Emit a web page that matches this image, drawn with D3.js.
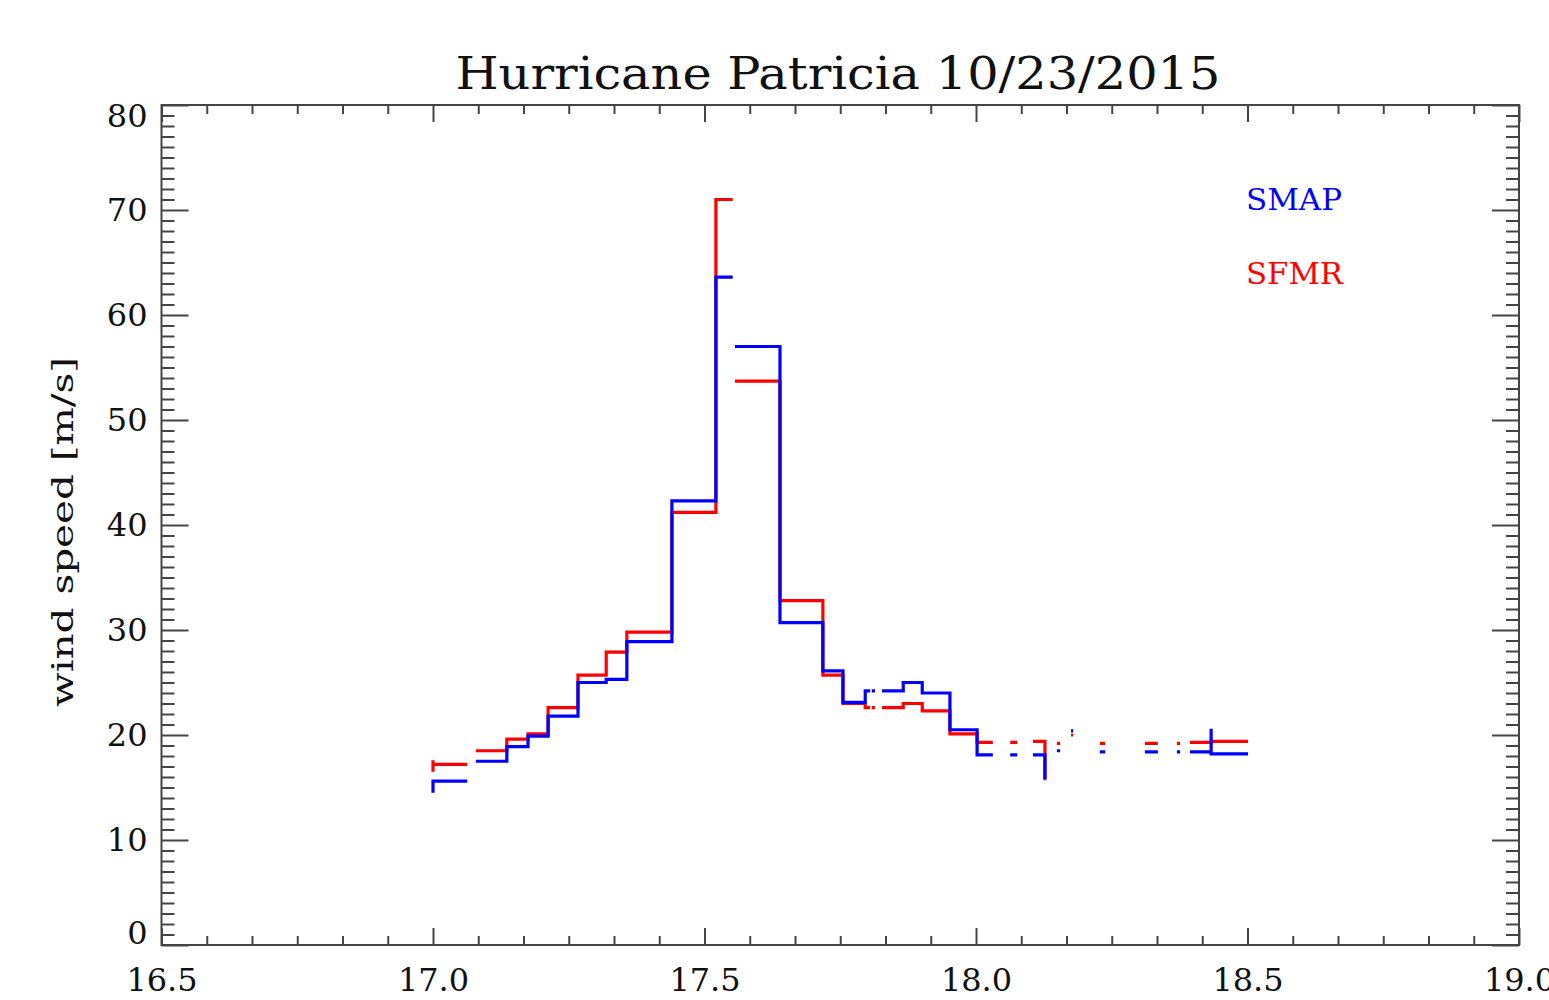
<!DOCTYPE html>
<html lang="en">
  <head>
    <meta charset="utf-8"/>
    <script src="https://d3js.org/d3.v7.min.js"></script>
    <title>Hurricane Patricia 10/23/2015</title>
  </head>
  <body style="margin:0;background:#fff">
    <svg id="chart"></svg>
  </body>

  <script>
  // bin edges in latitude (zero-width bins draw the small vertical stubs)
  const latEdges = [17.000, 17.000, 17.000, 17.063, 17.079, 17.136, 17.175, 17.212, 17.267, 17.319,
    17.357, 17.440, 17.521, 17.552, 17.556, 17.639, 17.718, 17.755, 17.796, 17.805,
    17.808, 17.814, 17.827, 17.866, 17.901, 17.952, 18.002, 18.031, 18.063, 18.076,
    18.105, 18.127, 18.127, 18.149, 18.155, 18.175, 18.179, 18.228, 18.238, 18.311,
    18.335, 18.370, 18.376, 18.394, 18.433, 18.433, 18.501];

  // wind speed per bin, null = no data
  const smap = [14.5, 14.5, 15.6, null, 17.5, 18.9, 19.9, 21.8, 25.0, 25.3,
    28.9, 42.3, 63.6, null, 57.0, 30.7, 26.1, 23.1, 24.2, null,
    24.2, null, 24.2, 25.0, 24.0, 20.5, 18.1, null, 18.1, null,
    18.1, 15.8, null, 18.5, null, 20.4, null, 18.4, null, 18.4,
    null, 18.4, null, 18.4, 20.6, 18.2];

  const sfmr = [16.5, 17.6, 17.2, null, 18.5, 19.6, 20.1, 22.6, 25.7, 27.9,
    29.8, 41.2, 71.0, null, 53.7, 32.8, 25.7, 23.0, 22.6, null,
    22.6, null, 22.6, 23.0, 22.3, 20.1, 19.3, null, 19.3, null,
    19.4, 15.7, null, 19.2, null, 20.0, null, 19.2, null, 19.2,
    null, 19.2, null, 19.3, 19.4, 19.4];

  const xTicks = [16.5, 17.0, 17.5, 18.0, 18.5, 19.0];
  const yTicks = [0, 10, 20, 30, 40, 50, 60, 70, 80];

  const W = 1549, H = 1000;
  const plotLeft = 161.5, plotRight = 1519, plotTop = 105, plotBottom = 945;

  const svg = d3.select("#chart")
    .attr("width", W)
    .attr("height", H)
    .style("font-family", "'DejaVu Serif', serif");

  const x = d3.scaleLinear().domain([16.5, 19.0]).range([plotLeft, plotRight]);
  const y = d3.scaleLinear().domain([0, 80]).range([plotBottom, plotTop]);

  // minor ticks: 6 per 0.5 on x, every 1 on y
  const xMinor = d3.range(0, 31).map(i => 16.5 + i / 12).filter(v => Math.abs(v * 2 - Math.round(v * 2)) > 1e-6);
  const yMinor = d3.range(0, 81).filter(v => v % 10 !== 0);

  const tickColor = "#444";

  function addAxis(axis, tx, ty) {
    const g = svg.append("g").attr("transform", `translate(${tx},${ty})`).call(axis);
    g.select(".domain").remove();
    g.selectAll(".tick line").attr("stroke", tickColor).attr("stroke-width", 2);
    return g;
  }

  // bottom axis with labels
  const gx = addAxis(d3.axisBottom(x).tickValues(xTicks).tickSize(-17).tickPadding(23)
    .tickFormat(d3.format(".1f")), 0, plotBottom);
  gx.selectAll("text").attr("font-size", 32).attr("fill", "#111")
    .attr("font-family", "'DejaVu Serif', serif");
  addAxis(d3.axisBottom(x).tickValues(xMinor).tickSize(-9).tickFormat(""), 0, plotBottom);
  // top axis
  addAxis(d3.axisTop(x).tickValues(xTicks).tickSize(-17).tickFormat(""), 0, plotTop);
  addAxis(d3.axisTop(x).tickValues(xMinor).tickSize(-9).tickFormat(""), 0, plotTop);

  // left axis with labels
  const gy = addAxis(d3.axisLeft(y).tickValues(yTicks).tickSize(-27).tickPadding(14), plotLeft, 0);
  gy.selectAll("text").attr("font-size", 32).attr("fill", "#111")
    .attr("font-family", "'DejaVu Serif', serif")
    .attr("dy", d => d === 80 ? "0.68em" : d === 0 ? "-0.05em" : "0.32em");
  addAxis(d3.axisLeft(y).tickValues(yMinor).tickSize(-13).tickFormat(""), plotLeft, 0);
  // right axis
  addAxis(d3.axisRight(y).tickValues(yTicks).tickSize(-27).tickFormat(""), plotRight, 0);
  addAxis(d3.axisRight(y).tickValues(yMinor).tickSize(-13).tickFormat(""), plotRight, 0);

  // frame
  svg.append("rect")
    .attr("x", plotLeft).attr("y", plotTop)
    .attr("width", plotRight - plotLeft).attr("height", plotBottom - plotTop)
    .attr("fill", "none").attr("stroke", tickColor).attr("stroke-width", 2);

  // step lines
  function stepPoints(values) {
    const pts = [];
    values.forEach((v, i) => {
      if (v == null) { pts.push(null); return; }
      pts.push([latEdges[i], v], [latEdges[i + 1], v]);
    });
    return pts;
  }

  const line = d3.line()
    .defined(d => d != null)
    .x(d => x(d[0]))
    .y(d => y(d[1]));

  svg.append("path")
    .datum(stepPoints(sfmr))
    .attr("d", line)
    .attr("fill", "none")
    .attr("stroke", "#ff0000")
    .attr("stroke-width", 3.2);

  svg.append("path")
    .datum(stepPoints(smap))
    .attr("d", line)
    .attr("fill", "none")
    .attr("stroke", "#0000ff")
    .attr("stroke-width", 3.2);

  // title
  svg.append("text")
    .attr("x", 838).attr("y", 89)
    .attr("text-anchor", "middle")
    .attr("font-size", 44)
    .attr("textLength", 765)
    .attr("lengthAdjust", "spacingAndGlyphs")
    .attr("fill", "#111")
    .text("Hurricane Patricia 10/23/2015");

  // y label
  svg.append("text")
    .attr("transform", "translate(73,532) rotate(-90)")
    .attr("text-anchor", "middle")
    .attr("font-size", 30)
    .attr("textLength", 350)
    .attr("lengthAdjust", "spacingAndGlyphs")
    .attr("fill", "#111")
    .text("wind speed [m/s]");

  // legend
  svg.append("text")
    .attr("x", 1246).attr("y", 210)
    .attr("font-size", 30)
    .attr("textLength", 96)
    .attr("lengthAdjust", "spacingAndGlyphs")
    .attr("fill", "#0000ff")
    .text("SMAP");

  svg.append("text")
    .attr("x", 1246).attr("y", 284)
    .attr("font-size", 30)
    .attr("textLength", 97)
    .attr("lengthAdjust", "spacingAndGlyphs")
    .attr("fill", "#ff0000")
    .text("SFMR");
  </script>
</html>
